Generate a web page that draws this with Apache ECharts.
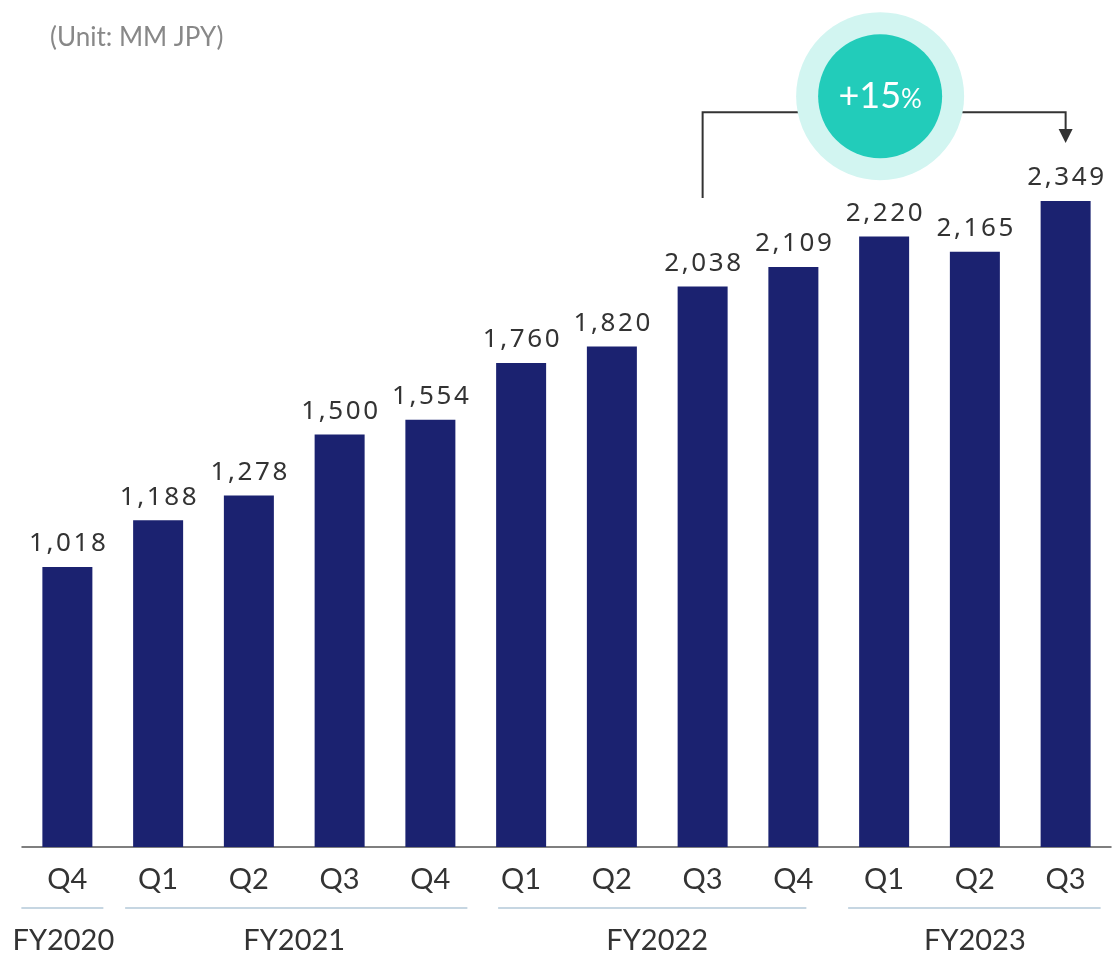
<!DOCTYPE html>
<html><head><meta charset="utf-8">
<script src="https://cdn.jsdelivr.net/npm/echarts@6/dist/echarts.min.js"></script>
<style>html,body{margin:0;padding:0;background:#fff}#c{width:1112px;height:955px}</style>
</head><body><div id="c"></div>
<script>
const quarters = ['Q4','Q1','Q2','Q3','Q4','Q1','Q2','Q3','Q4','Q1','Q2','Q3'];
const values = [1018,1188,1278,1500,1554,1760,1820,2038,2109,2220,2165,2349];
const fiscalYears = ['FY2020','FY2021','FY2022','FY2023'];
const fyStart = [0,1,5,9];
const fyEnd = [0,4,8,11];
const growthLabel = ['+15','%'];
const fromIdx = 7, toIdx = 11;

// layout-only offsets for the year underline segments (px, relative to bar centres)
const lineOffStart = [-46,-33,-23,-36];
const lineOffEnd = [36,37,13,35];

const chart = echarts.init(document.getElementById('c'));
const fmt = v => v.toLocaleString('en-US');
chart.setOption({
  animation:false,
  grid:{left:22,right:1,top:22,bottom:108},
  xAxis:{type:'category',data:quarters,
    axisLine:{lineStyle:{color:'#555',width:1.5}},axisTick:{show:false},
    axisLabel:{color:'#333',fontSize:29,fontFamily:'Lato',margin:18}},
  yAxis:{type:'value',min:0,max:3000,show:false,splitLine:{show:false}},
  series:[{type:'bar',data:values,barWidth:50,itemStyle:{color:'#1b2270'},
    label:{show:true,position:'top',distance:10,color:'#333',fontSize:26,fontFamily:'Noto Sans',
      formatter:p=>fmt(p.value).split('').join('\u200A')}}]
});

const px = (i,v)=>chart.convertToPixel({seriesIndex:0},[i,v]);
const g = [];
g.push({type:'text',x:50,y:38,style:{text:'(Unit: MM JPY)',fill:'#888',font:'26px Lato',textVerticalAlign:'middle'}});
const baseY = px(0,0)[1];
for(let k=0;k<fiscalYears.length;k++){
  const x1 = px(fyStart[k],0)[0]+lineOffStart[k];
  const x2 = px(fyEnd[k],0)[0]+lineOffEnd[k];
  g.push({type:'line',shape:{x1:x1,y1:baseY+61,x2:x2,y2:baseY+61},style:{stroke:'#c6d6e2',lineWidth:2}});
  const cx = (px(fyStart[k],0)[0]+px(fyEnd[k],0)[0])/2 - (k===0?4:0);
  g.push({type:'text',x:cx,y:baseY+94,style:{text:fiscalYears[k],fill:'#333',font:'29px Lato',textAlign:'center',textVerticalAlign:'middle'}});
}
const a = px(fromIdx,2360), b = px(toIdx,2560);
const yTop = px(fromIdx,2672)[1];
g.push({type:'polyline',shape:{points:[[a[0],a[1]],[a[0],yTop],[b[0],yTop],[b[0],b[1]-12]]},style:{stroke:'#333',lineWidth:2,fill:null}});
g.push({type:'polygon',shape:{points:[[b[0]-7,b[1]-14],[b[0]+7,b[1]-14],[b[0],b[1]]]},style:{fill:'#333'}});
const ccx = (a[0]+b[0])/2-4, ccy = yTop-16;
g.push({type:'circle',shape:{cx:ccx,cy:ccy,r:84},style:{fill:'#d2f5f1'}});
g.push({type:'circle',shape:{cx:ccx,cy:ccy,r:62},style:{fill:'#22ccba'}});
g.push({type:'text',x:ccx,y:ccy,style:{text:'{a|'+growthLabel[0]+'}{b|'+growthLabel[1]+'}',rich:{a:{fontSize:36,fontFamily:'Lato',fill:'#fff',color:'#fff'},b:{fontSize:26,fontFamily:'Lato',fill:'#fff',color:'#fff',padding:[6,0,0,0]}},textAlign:'center',textVerticalAlign:'middle',fill:'#fff'}});
chart.setOption({graphic:g});
</script></body></html>
